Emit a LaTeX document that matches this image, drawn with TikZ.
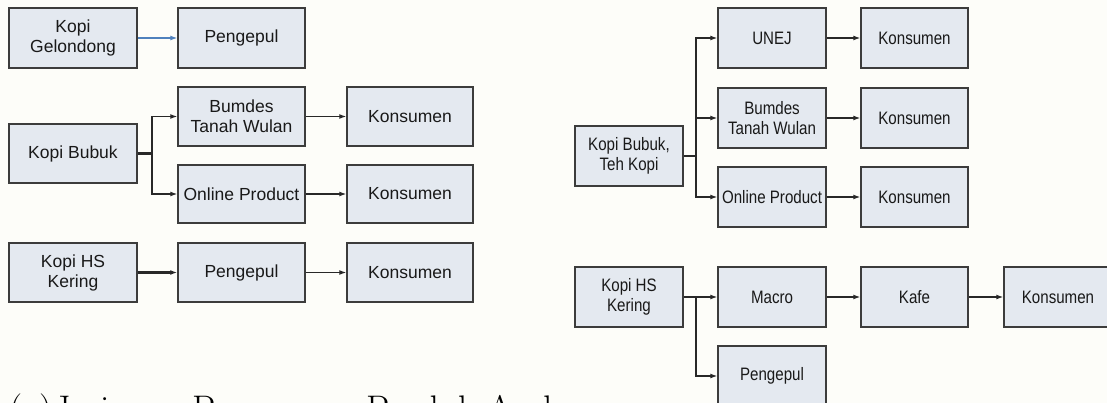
\documentclass[tikz,border=0pt]{standalone}
\usepackage{fontspec}
\newfontfamily\boxfont{Liberation Sans}
\newfontfamily\narrowfont[FakeStretch=0.84]{Liberation Sans}
\usetikzlibrary{arrows.meta}
\definecolor{bgc}{RGB}{253,253,249}
\definecolor{boxfill}{RGB}{228,233,240}
\definecolor{boxline}{RGB}{60,60,60}
\definecolor{arrc}{RGB}{40,40,40}
\definecolor{bluearr}{RGB}{79,129,189}
\definecolor{txtc}{RGB}{25,25,25}
\tikzset{
  lbox/.style={draw=boxline, line width=1.5pt, fill=boxfill, minimum width=127pt, minimum height=59pt,
     inner sep=1pt, align=center, text=txtc, font=\boxfont\fontsize{17.5}{20}\selectfont},
  rbox/.style={draw=boxline, line width=1.5pt, fill=boxfill, minimum width=108pt, minimum height=60pt,
     inner sep=1pt, align=center, text=txtc, font=\narrowfont\fontsize{18}{19.5}\selectfont},
  arr/.style={draw=arrc, line width=1.2pt, -{Latex[length=7pt,width=5pt]}},
  thick line/.style={draw=arrc, line width=2.4pt},
  captext/.style={anchor=base west, inner sep=0pt, font=\fontsize{37}{44}\selectfont, text=black}
}
\begin{document}
\begin{tikzpicture}[x=1pt,y=-1pt]
\useasboundingbox (0,0) rectangle (1107,403);
\fill[bgc] (0,0) rectangle (1107,403);
\clip (0,0) rectangle (1107,403);

% ---------- left diagram ----------
\node[lbox, minimum width=128pt, minimum height=60pt] (kg) at (73,38) {Kopi\\Gelondong};
\node[lbox, minimum height=60pt] (p1) at (241.5,38) {Pengepul};
\node[lbox] (bu) at (241.5,116.5) {Bumdes\\Tanah Wulan};
\node[lbox, minimum width=126pt] (k1) at (410,116.5) {Konsumen};
\node[lbox, minimum width=128pt] (kb) at (73,153.5) {Kopi Bubuk};
\node[lbox, minimum height=58pt] (op) at (241.5,194) {Online Product};
\node[lbox, minimum width=126pt, minimum height=58pt] (k2) at (410,194) {Konsumen};
\node[lbox, minimum width=128pt] (kh) at (73,272.5) {Kopi HS\\Kering};
\node[lbox] (p2) at (241.5,272.5) {Pengepul};
\node[lbox, minimum width=126pt] (k3) at (410,272.5) {Konsumen};

\coordinate (br1) at (152,153.5);
\draw[arr, draw=bluearr] (kg) -- (p1);
\draw[thick line] (kb.east) -- (br1);
\draw[arr] (br1) |- (bu.west);
\draw[arr] (br1) |- (op.west);
\draw[arr] (bu) -- (k1);
\draw[arr] (op) -- (k2);
\draw[arr, line width=2.2pt] (kh) -- (p2);
\draw[arr] (p2) -- (k3);

% ---------- right diagram ----------
\node[rbox] (rb) at (629,156) {Kopi Bubuk,\\Teh Kopi};
\node[rbox] (un) at (772,38) {UNEJ};
\node[rbox] (rbu) at (772,118) {Bumdes\\Tanah Wulan};
\node[rbox] (rop) at (772,197) {Online Product};
\node[rbox, minimum width=107pt] (rk1) at (914.5,38) {Konsumen};
\node[rbox, minimum width=107pt] (rk2) at (914.5,118) {Konsumen};
\node[rbox, minimum width=107pt] (rk3) at (914.5,197) {Konsumen};
\node[rbox] (rh) at (629,297) {Kopi HS\\Kering};
\node[rbox] (ma) at (772,297) {Macro};
\node[rbox] (pe) at (772,376) {Pengepul};
\node[rbox, minimum width=107pt] (kf) at (914.5,297) {Kafe};
\node[rbox] (rk4) at (1058,297) {Konsumen};

\coordinate (br2) at (696,156);
\coordinate (br3) at (696,297);
\draw[thick line] (rb.east) -- (br2);
\draw[arr] (br2) |- (un.west);
\draw[arr] (rbu.west -| br2) -- (rbu.west);
\draw[arr] (br2) |- (rop.west);
\draw[arr] (un) -- (rk1);
\draw[arr] (rbu) -- (rk2);
\draw[arr] (rop) -- (rk3);
\draw[arr] (rh) -- (ma);
\draw[arr] (br3) |- (pe.west);
\draw[arr] (ma) -- (kf);
\draw[arr] (kf) -- (rk4);

% ---------- caption (cut by the bottom edge) ----------
\node[captext] (capa) at (9,421) {(a)};
\node[captext] (capt) at (53,421) {Jaringan Pemasaran Produk Asal};
\end{tikzpicture}
\end{document}
